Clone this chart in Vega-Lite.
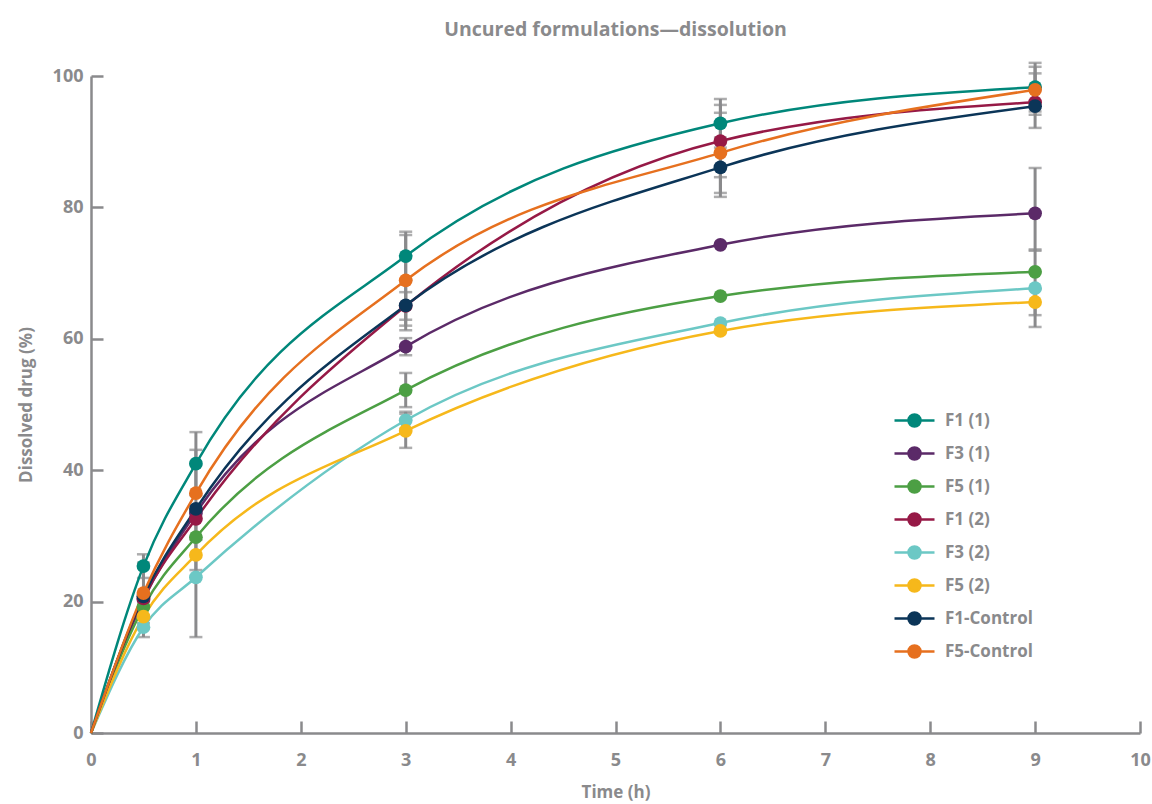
{
  "$schema": "https://vega.github.io/schema/vega-lite/v6.json",
  "autosize": {"type": "none"},
  "width": 1049,
  "height": 657,
  "padding": {"left": 91, "top": 76, "right": 12, "bottom": 71},
  "background": "white",
  "title": {"text": "Uncured formulations—dissolution", "anchor": "middle", "offset": 21, "fontSize": 19.5, "font": "Open Sans", "fontWeight": "bold", "color": "#8a8a8c"},
  "config": {"view": {"stroke": null}},
  "datasets": {
    "pts": [
      {"series": "F1 (1)", "t": 0, "v": 0}, {"series": "F1 (1)", "t": 0.5, "v": 25.4}, {"series": "F1 (1)", "t": 1, "v": 41.0}, {"series": "F1 (1)", "t": 3, "v": 72.6}, {"series": "F1 (1)", "t": 6, "v": 92.8}, {"series": "F1 (1)", "t": 9, "v": 98.3},
      {"series": "F3 (1)", "t": 0, "v": 0}, {"series": "F3 (1)", "t": 0.5, "v": 20.3}, {"series": "F3 (1)", "t": 1, "v": 33.5}, {"series": "F3 (1)", "t": 3, "v": 58.8}, {"series": "F3 (1)", "t": 6, "v": 74.3}, {"series": "F3 (1)", "t": 9, "v": 79.1},
      {"series": "F5 (1)", "t": 0, "v": 0}, {"series": "F5 (1)", "t": 0.5, "v": 19.2}, {"series": "F5 (1)", "t": 1, "v": 29.8}, {"series": "F5 (1)", "t": 3, "v": 52.2}, {"series": "F5 (1)", "t": 6, "v": 66.5}, {"series": "F5 (1)", "t": 9, "v": 70.2},
      {"series": "F1 (2)", "t": 0, "v": 0}, {"series": "F1 (2)", "t": 0.5, "v": 20.5}, {"series": "F1 (2)", "t": 1, "v": 32.6}, {"series": "F1 (2)", "t": 3, "v": 65.0}, {"series": "F1 (2)", "t": 6, "v": 90.1}, {"series": "F1 (2)", "t": 9, "v": 96.0},
      {"series": "F3 (2)", "t": 0, "v": 0}, {"series": "F3 (2)", "t": 0.5, "v": 16.1}, {"series": "F3 (2)", "t": 1, "v": 23.7}, {"series": "F3 (2)", "t": 3, "v": 47.6}, {"series": "F3 (2)", "t": 6, "v": 62.4}, {"series": "F3 (2)", "t": 9, "v": 67.7},
      {"series": "F5 (2)", "t": 0, "v": 0}, {"series": "F5 (2)", "t": 0.5, "v": 17.7}, {"series": "F5 (2)", "t": 1, "v": 27.1}, {"series": "F5 (2)", "t": 3, "v": 46.0}, {"series": "F5 (2)", "t": 6, "v": 61.2}, {"series": "F5 (2)", "t": 9, "v": 65.6},
      {"series": "F1-Control", "t": 0, "v": 0}, {"series": "F1-Control", "t": 0.5, "v": 20.8}, {"series": "F1-Control", "t": 1, "v": 34.1}, {"series": "F1-Control", "t": 3, "v": 65.1}, {"series": "F1-Control", "t": 6, "v": 86.1}, {"series": "F1-Control", "t": 9, "v": 95.4},
      {"series": "F5-Control", "t": 0, "v": 0}, {"series": "F5-Control", "t": 0.5, "v": 21.3}, {"series": "F5-Control", "t": 1, "v": 36.5}, {"series": "F5-Control", "t": 3, "v": 68.9}, {"series": "F5-Control", "t": 6, "v": 88.3}, {"series": "F5-Control", "t": 9, "v": 97.9}
    ],
    "err": [
      {"series": "F1 (1)", "t": 0.5, "lo": 23.6, "hi": 27.2},
      {"series": "F3 (2)", "t": 0.5, "lo": 14.6, "hi": 17.6},
      {"series": "F5-Control", "t": 0.5, "lo": 16.7, "hi": 25.9},
      {"series": "F1 (1)", "t": 1, "lo": 36.2, "hi": 45.8},
      {"series": "F5-Control", "t": 1, "lo": 29.9, "hi": 43.1},
      {"series": "F5 (2)", "t": 1, "lo": 24.8, "hi": 29.4},
      {"series": "F3 (2)", "t": 1, "lo": 14.6, "hi": 32.8},
      {"series": "F1 (1)", "t": 3, "lo": 68.9, "hi": 76.3},
      {"series": "F5-Control", "t": 3, "lo": 62.0, "hi": 75.8},
      {"series": "F1-Control", "t": 3, "lo": 61.3, "hi": 68.9},
      {"series": "F1 (2)", "t": 3, "lo": 62.9, "hi": 67.1},
      {"series": "F3 (1)", "t": 3, "lo": 57.5, "hi": 60.1},
      {"series": "F5 (1)", "t": 3, "lo": 49.6, "hi": 54.8},
      {"series": "F3 (2)", "t": 3, "lo": 46.3, "hi": 48.9},
      {"series": "F5 (2)", "t": 3, "lo": 43.4, "hi": 48.6},
      {"series": "F1 (1)", "t": 6, "lo": 89.1, "hi": 96.5},
      {"series": "F1 (2)", "t": 6, "lo": 84.6, "hi": 95.6},
      {"series": "F5-Control", "t": 6, "lo": 82.2, "hi": 94.4},
      {"series": "F1-Control", "t": 6, "lo": 81.6, "hi": 90.6},
      {"series": "F1 (1)", "t": 9, "lo": 94.6, "hi": 102.0},
      {"series": "F5-Control", "t": 9, "lo": 94.1, "hi": 101.4},
      {"series": "F1 (2)", "t": 9, "lo": 92.1, "hi": 100.4},
      {"series": "F3 (1)", "t": 9, "lo": 73.4, "hi": 86.0},
      {"series": "F3 (2)", "t": 9, "lo": 61.8, "hi": 73.6},
      {"series": "F5 (2)", "t": 9, "lo": 63.6, "hi": 67.6}
    ]
  },
  "encoding": {
    "x": {"field": "t", "type": "quantitative", "title": "Time (h)",
      "scale": {"domain": [0, 10], "nice": false},
      "axis": {"values": [0,1,2,3,4,5,6,7,8,9,10], "grid": false, "labelFlush": false, "domainColor": "#8a8a8c", "domainWidth": 2.5, "tickColor": "#8a8a8c", "tickWidth": 2.5, "tickSize": -12, "labelPadding": 30, "labelFont": "Open Sans", "labelFontWeight": "bold", "labelFontSize": 18, "labelColor": "#8a8a8c", "titleFont": "Open Sans", "titleFontWeight": "bold", "titleFontSize": 17, "titleColor": "#8a8a8c", "titlePadding": 15}},
    "y": {"field": "v", "type": "quantitative", "title": "Dissolved drug (%)",
      "scale": {"domain": [0, 100], "nice": false},
      "axis": {"values": [0,20,40,60,80,100], "grid": false, "labelFlush": false, "domainColor": "#8a8a8c", "domainWidth": 2.5, "tickColor": "#8a8a8c", "tickWidth": 2.5, "tickSize": -12, "labelPadding": 20, "labelFont": "Open Sans", "labelFontWeight": "bold", "labelFontSize": 18, "labelColor": "#8a8a8c", "titleFont": "Open Sans", "titleFontWeight": "bold", "titleFontSize": 17, "titleColor": "#8a8a8c", "titlePadding": 17}}
  },
  "layer": [
    {
      "data": {"name": "err"},
      "mark": {"type": "errorbar", "ticks": {"size": 13, "thickness": 2.5, "color": "#8a8a8c"}, "rule": {"strokeWidth": 3, "color": "#8a8a8c"}},
      "encoding": {
        "x": {"field": "t", "type": "quantitative"},
        "y": {"field": "lo", "type": "quantitative", "title": "Dissolved drug (%)"},
        "y2": {"field": "hi"}
      }
    },
    {
      "data": {"name": "pts"},
      "mark": {"type": "line", "interpolate": "monotone", "strokeWidth": 2.5},
      "encoding": {
        "color": {"field": "series", "type": "nominal",
          "scale": {"domain": ["F1 (1)", "F3 (1)", "F5 (1)", "F1 (2)", "F3 (2)", "F5 (2)", "F1-Control", "F5-Control"],
            "range": ["#00877a", "#5b2a68", "#4c9f44", "#961946", "#6cc8c5", "#f6b81b", "#0b3558", "#e6701f"]},
          "legend": {"title": null, "orient": "none", "legendX": 802, "legendY": 323,
            "symbolType": "M-1,0L-0.3,0M0.3,0L1,0M0.3,0A0.3,0.3 0 1 1 -0.3,0A0.3,0.3 0 1 1 0.3,0",
            "symbolSize": 1600, "symbolStrokeWidth": 2.5, "rowPadding": 0,
            "labelFont": "Open Sans", "labelFontWeight": "bold", "labelFontSize": 17, "labelColor": "#8a8a8c", "labelOffset": 9,
            "encode": {"symbols": {"update": {"fill": {"scale": "color", "field": "value"}, "stroke": {"scale": "color", "field": "value"}, "opacity": {"value": 1}}}}}}
      }
    },
    {
      "data": {"name": "pts"},
      "transform": [{"filter": "datum.t > 0"}],
      "mark": {"type": "point", "filled": true, "opacity": 1, "size": 190},
      "encoding": {
        "color": {"field": "series", "type": "nominal",
          "scale": {"domain": ["F1 (1)", "F3 (1)", "F5 (1)", "F1 (2)", "F3 (2)", "F5 (2)", "F1-Control", "F5-Control"],
            "range": ["#00877a", "#5b2a68", "#4c9f44", "#961946", "#6cc8c5", "#f6b81b", "#0b3558", "#e6701f"]},
          "legend": {"title": null, "orient": "none", "legendX": 802, "legendY": 323,
            "symbolType": "M-1,0L-0.3,0M0.3,0L1,0M0.3,0A0.3,0.3 0 1 1 -0.3,0A0.3,0.3 0 1 1 0.3,0",
            "symbolSize": 1600, "symbolStrokeWidth": 2.5, "rowPadding": 0,
            "labelFont": "Open Sans", "labelFontWeight": "bold", "labelFontSize": 17, "labelColor": "#8a8a8c", "labelOffset": 9,
            "encode": {"symbols": {"update": {"fill": {"scale": "color", "field": "value"}, "stroke": {"scale": "color", "field": "value"}, "opacity": {"value": 1}}}}}}
      }
    }
  ]
}
